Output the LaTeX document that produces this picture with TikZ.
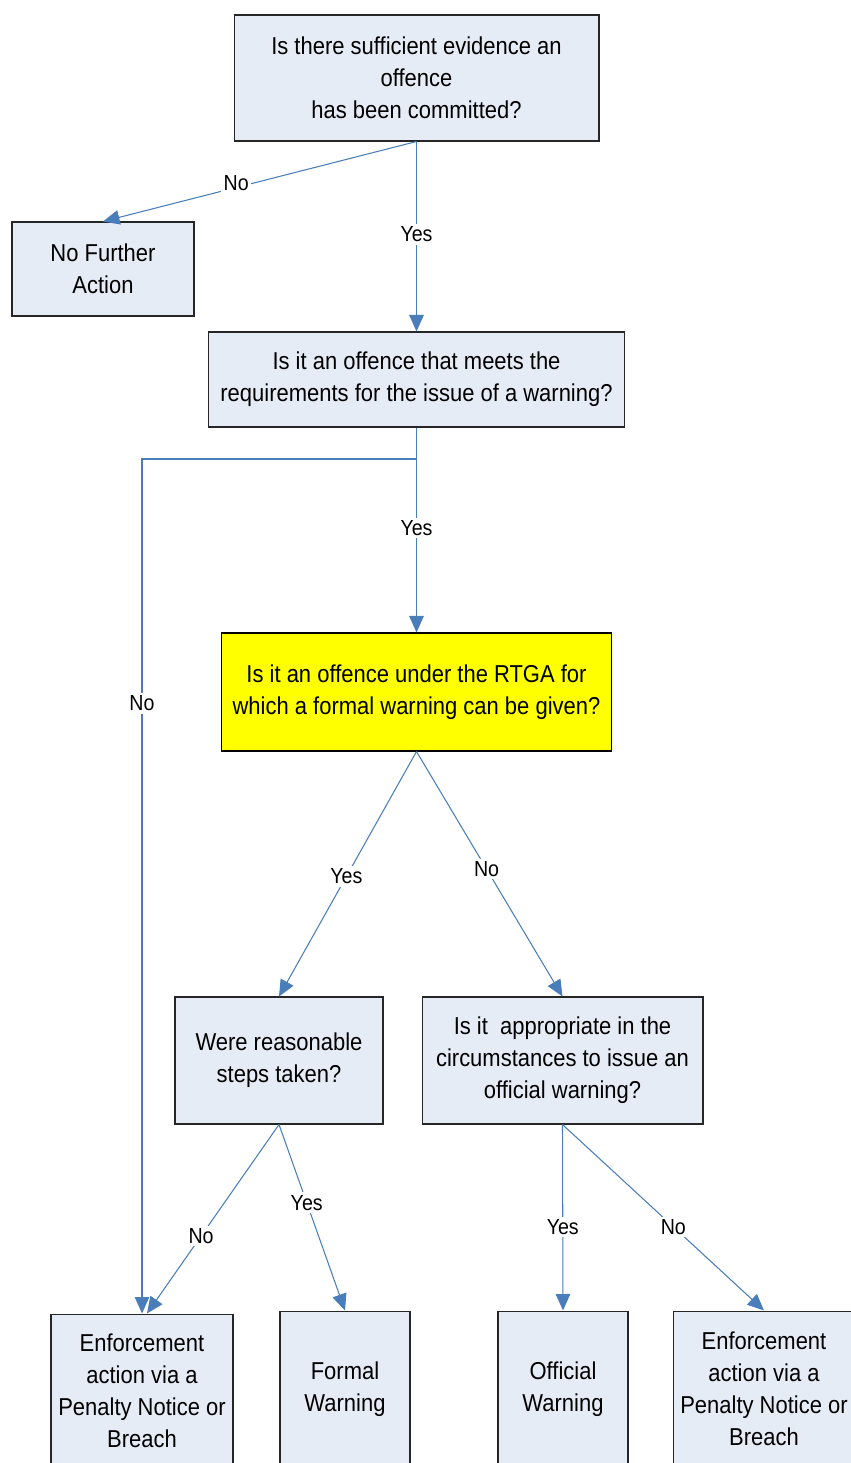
\documentclass[tikz,border=0pt]{standalone}
\usepackage{fontspec}
\setmainfont{Liberation Sans}[FakeStretch=0.9]
\usetikzlibrary{arrows.meta}
\definecolor{boxfill}{HTML}{E6ECF6}
\definecolor{linkblue}{HTML}{4A7EBB}
\definecolor{question}{HTML}{FFFF00}
\tikzset{
    box/.style={draw=black!85, fill=boxfill, line width=0.6pt, align=center, inner sep=2pt,
        font=\fontsize{13.9}{18.2}\selectfont},
    link/.style={draw=linkblue, line width=0.6pt, -{Triangle[length=0.33cm,width=0.29cm]}},
    lbl/.style={fill=white, inner sep=1.5pt, text=black, font=\fontsize{12.4}{14}\selectfont}
}
\begin{document}
\begin{tikzpicture}[x=0.02cm, y=-0.02cm]
            \useasboundingbox (0,0) rectangle (851,1463);
            \clip (0,0) rectangle (851,1463);
            \node[box, minimum width=7.3cm, minimum height=2.52cm] (evidence) at (416.5,78)
                {Is there sufficient evidence an\\offence\\has been committed?};
            \node[box, minimum width=3.64cm, minimum height=1.88cm] (nfa) at (103,269)
                {No Further\\Action};
            \node[box, minimum width=8.34cm, minimum height=1.9cm] (meets) at (416.5,379.5)
                {Is it an offence that meets the\\requirements for the issue of a warning?};
            \node[box, fill=question, draw=black, minimum width=7.82cm, minimum height=2.36cm] (rtga) at (416.5,692)
                {Is it an offence under the RTGA for\\which a formal warning can be given?};
            \node[box, minimum width=4.16cm, minimum height=2.54cm] (steps) at (279,1060.5)
                {Were reasonable\\steps taken?};
            \node[box, minimum width=5.62cm, minimum height=2.54cm] (appropriate) at (562.5,1060.5)
                {Is it\ \ appropriate in the\\circumstances to issue an\\official warning?};
            \node[box, minimum width=3.64cm, minimum height=3.08cm] (enfleft) at (142,1391)
                {Enforcement\\action via a\\Penalty Notice or\\Breach};
            \node[box, minimum width=2.6cm, minimum height=3.12cm] (formal) at (345,1389)
                {Formal\\Warning};
            \node[box, minimum width=2.6cm, minimum height=3.12cm] (official) at (563,1389)
                {Official\\Warning};
            \node[box, minimum width=3.64cm, minimum height=3.12cm] (enfright) at (764,1389)
                {Enforcement\\action via a\\Penalty Notice or\\Breach};
            \coordinate (split) at (416.5,459);
            \draw[link] (evidence.south) -- node[lbl, pos=0.575, yshift=0.08cm] {No} (nfa.north);
            \draw[link] (evidence.south) -- node[lbl, pos=0.49] {Yes} (meets.north);
            \draw[link] (meets.south) -- node[lbl, pos=0.49] {Yes} (rtga.north);
            \draw[link] (split) -| node[lbl, pos=0.643] {No} (enfleft.north);
            \draw[link] (rtga.south) -- node[lbl, pos=0.51] {Yes} (steps.north);
            \draw[link] (rtga.south) -- node[lbl, pos=0.48] {No} (appropriate.north);
            \draw[link] (steps.south) -- node[lbl, pos=0.59] {No} ([xshift=0.1cm]enfleft.north);
            \draw[link] (steps.south) -- node[lbl, pos=0.42] {Yes} (formal.north);
            \draw[link] (appropriate.south) -- node[lbl, pos=0.55] {Yes} (official.north);
            \draw[link] (appropriate.south) -- node[lbl, pos=0.55] {No} (enfright.north);
\end{tikzpicture}
\end{document}
